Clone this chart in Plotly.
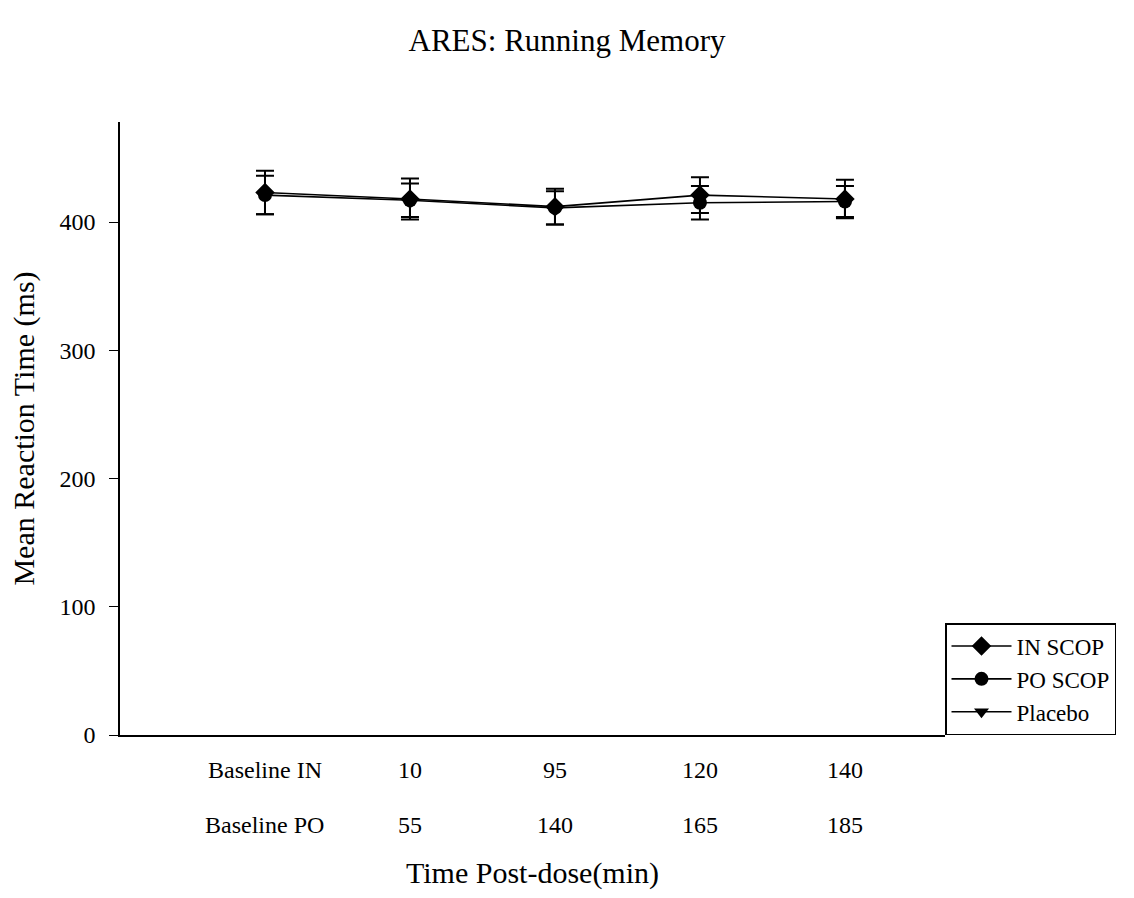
import plotly.graph_objects as go

x_pos = [1, 2, 3, 4, 5]
labels_in = ["Baseline IN", "10", "95", "120", "140"]
labels_po = ["Baseline PO", "55", "140", "165", "185"]

in_scop = [423, 418, 412, 421, 418]
in_err = [17, 16, 14, 14, 15]
po_scop = [421, 417, 411, 415, 416]
po_err = [15, 13, 13, 13, 12]

FONT = "Liberation Serif, Times New Roman, serif"

fig = go.Figure()
fig.add_trace(go.Scatter(
    x=x_pos, y=in_scop, name="IN SCOP", mode="lines+markers",
    line=dict(color="black", width=1.6),
    marker=dict(symbol="diamond", size=15, color="black"),
    error_y=dict(type="data", array=in_err, color="black", thickness=2, width=9)))
fig.add_trace(go.Scatter(
    x=x_pos, y=po_scop, name="PO SCOP", mode="lines+markers",
    line=dict(color="black", width=1.6),
    marker=dict(symbol="circle", size=14, color="black"),
    error_y=dict(type="data", array=po_err, color="black", thickness=2, width=9)))
fig.add_trace(go.Scatter(
    x=[None], y=[None], name="Placebo", mode="lines+markers",
    line=dict(color="black", width=1.6),
    marker=dict(symbol="triangle-down", size=13, color="black")))

for xv, t in zip(x_pos, labels_po):
    fig.add_annotation(x=xv, y=0, xref="x", yref="y", text=t, showarrow=False,
                       yanchor="top", yshift=-75, font=dict(family=FONT, size=24, color="black"))

fig.update_layout(
    width=1134, height=898,
    paper_bgcolor="white", plot_bgcolor="white",
    margin=dict(l=120, r=189, t=122, b=163),
    font=dict(family=FONT, size=24, color="black"),
    title=dict(text="ARES: Running Memory", x=0.5, xref="container", xanchor="center",
               y=0.955, yanchor="middle", font=dict(family=FONT, size=31)),
    showlegend=True,
    legend=dict(x=1, xanchor="left", y=0, yanchor="bottom", bordercolor="black", borderwidth=1.5,
                bgcolor="white", font=dict(family=FONT, size=23), itemwidth=60,
                tracegroupgap=0),
)
fig.update_xaxes(range=[0, 5.69], tickvals=x_pos, ticktext=labels_in, showline=True,
                 linecolor="black", linewidth=1.5, ticks="", showgrid=False, zeroline=False,
                 ticklabelstandoff=12, tickfont=dict(family=FONT, size=24),
                 title=dict(text="Time Post-dose(min)", font=dict(family=FONT, size=30), standoff=80))
fig.update_yaxes(range=[0, 478], tickvals=[0, 100, 200, 300, 400], showline=True,
                 linecolor="black", linewidth=1.5, ticks="outside", ticklen=9, tickcolor="black",
                 showgrid=False, zeroline=False, ticklabelstandoff=9,
                 tickfont=dict(family=FONT, size=24),
                 title=dict(text="Mean Reaction Time (ms)", font=dict(family=FONT, size=30), standoff=16))

fig.write_html("out.html")
